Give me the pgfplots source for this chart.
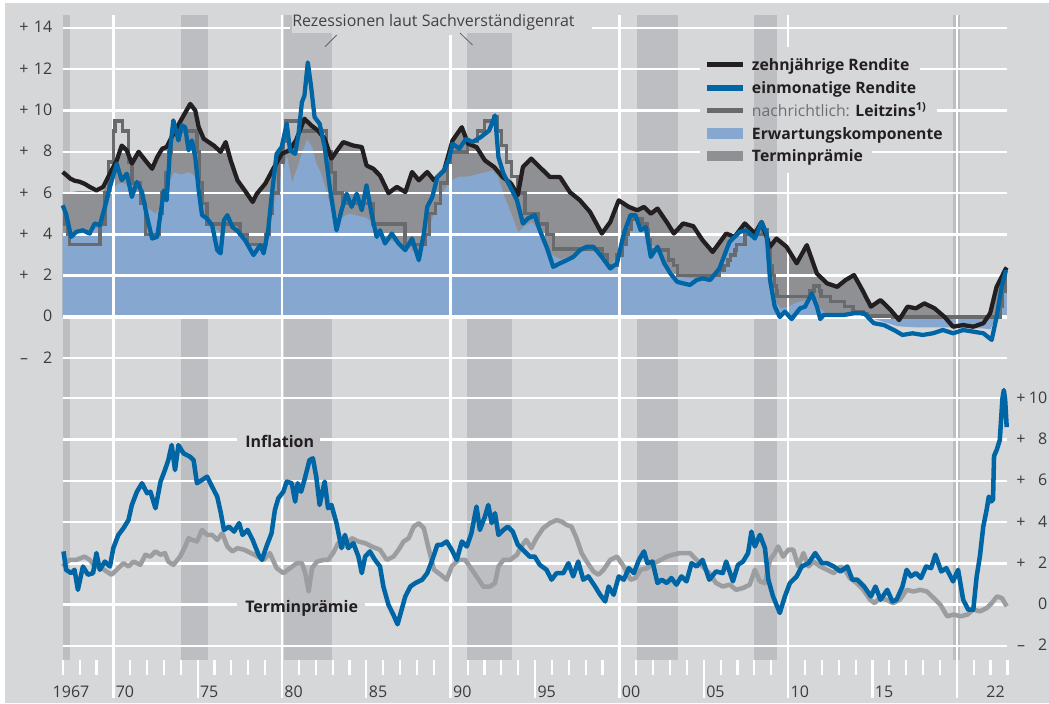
\documentclass[border=0pt]{standalone}
\usepackage{fontspec}
\setmainfont{Open Sans}
\usepackage{pgfplots}
\pgfplotsset{compat=1.18}
\usepackage{pgfplotstable}

\definecolor{bg}{RGB}{214,215,217}
\definecolor{band}{RGB}{189,190,194}
\definecolor{tpgray}{RGB}{143,144,147}
\definecolor{ekblue}{RGB}{134,168,208}
\definecolor{blueline}{RGB}{0,101,165}
\definecolor{blackline}{RGB}{35,31,32}
\definecolor{leitz}{RGB}{105,106,109}
\definecolor{tpline}{RGB}{156,157,160}
\definecolor{txt}{RGB}{35,31,32}
\definecolor{ticktxt}{RGB}{60,60,62}
\definecolor{nachr}{RGB}{110,111,114}

% ---------------- data ----------------
\pgfplotstableread{
x y
1967.00 7.02
1967.25 6.85
1967.45 6.70
1967.70 6.60
1968.00 6.55
1968.30 6.45
1968.60 6.30
1969.00 6.13
1969.40 6.30
1969.80 6.95
1970.20 7.58
1970.50 8.30
1970.80 8.07
1971.10 7.43
1971.50 8.00
1971.90 7.58
1972.30 7.18
1972.60 7.74
1972.90 8.15
1973.16 8.23
1973.56 8.87
1974.06 9.60
1974.56 10.32
1974.86 10.00
1975.06 9.20
1975.36 8.63
1975.96 8.30
1976.36 8.00
1976.66 8.47
1976.96 7.58
1977.36 6.62
1977.86 6.05
1978.26 5.57
1978.51 5.97
1979.01 6.46
1979.48 7.18
1979.98 7.90
1980.43 8.07
1980.83 8.55
1981.33 9.60
1981.73 9.28
1982.13 9.03
1982.53 8.63
1982.93 7.67
1983.30 8.10
1983.63 8.47
1984.23 8.30
1984.73 8.23
1985.01 7.34
1985.41 7.18
1985.81 6.85
1986.31 6.00
1986.81 6.30
1987.31 6.05
1987.71 7.02
1988.11 6.62
1988.61 7.02
1989.01 6.62
1989.61 7.10
1990.11 8.55
1990.66 9.19
1991.03 8.39
1991.53 8.23
1992.03 7.58
1992.58 7.26
1993.08 6.78
1993.58 6.46
1993.98 5.90
1994.28 7.26
1994.78 7.67
1995.28 7.26
1995.88 6.78
1996.48 6.78
1997.06 6.05
1997.66 5.65
1998.26 5.09
1998.96 4.04
1999.46 4.60
1999.96 5.65
2000.56 5.33
2001.06 5.17
2001.46 5.33
2001.86 5.00
2002.26 5.25
2002.86 4.53
2003.23 4.04
2003.78 4.53
2004.38 4.40
2004.93 3.72
2005.53 3.15
2006.33 4.04
2006.83 3.88
2007.43 4.53
2008.03 4.04
2008.43 4.60
2008.93 3.40
2009.31 3.80
2009.91 3.40
2010.51 2.60
2011.11 3.48
2011.71 2.10
2012.31 1.63
2012.91 1.46
2013.41 1.79
2013.91 2.03
2014.41 1.30
2014.91 0.50
2015.48 0.82
2016.08 0.34
2016.58 -0.15
2017.08 0.50
2017.58 0.42
2018.08 0.66
2018.68 0.42
2019.28 0.00
2019.78 -0.47
2020.38 -0.39
2020.98 -0.47
2021.58 -0.30
2021.98 0.18
2022.36 1.46
2022.70 2.00
2022.86 2.27
2022.96 2.40
}\tenyr

\pgfplotstableread{
x y
1967.00 5.95
1967.45 6.05
1968.00 6.10
1968.60 6.10
1969.00 6.00
1969.40 6.10
1969.80 6.60
1970.20 7.40
1970.50 8.30
1970.80 8.07
1971.10 7.43
1971.50 8.00
1971.90 7.58
1972.30 7.18
1972.60 7.74
1972.90 8.15
1973.16 8.23
1973.56 8.87
1974.06 9.60
1974.56 10.32
1974.86 10.00
1975.06 9.20
1975.36 8.63
1975.96 8.30
1976.36 8.00
1976.66 8.47
1976.96 7.58
1977.36 6.62
1977.86 6.05
1978.26 5.57
1978.51 5.97
1979.01 6.46
1979.48 7.18
1979.98 7.90
1980.43 8.07
1980.83 8.55
1981.33 9.60
1981.73 9.28
1982.13 9.03
1982.53 8.63
1982.93 7.67
1983.30 8.10
1983.63 8.47
1984.23 8.30
1984.73 8.23
1985.01 7.34
1985.41 7.18
1985.81 6.85
1986.31 6.00
1986.81 6.30
1987.31 6.05
1987.71 7.02
1988.11 6.62
1988.61 7.02
1989.01 6.62
1989.61 7.10
1990.11 8.55
1990.66 9.19
1991.03 8.39
1991.53 8.23
1992.03 7.58
1992.58 7.26
1993.08 6.78
1993.58 6.46
1993.98 5.90
1994.28 7.26
1994.78 7.67
1995.28 7.26
1995.88 6.78
1996.48 6.78
1997.06 6.05
1997.66 5.65
1998.26 5.09
1998.96 4.04
1999.46 4.60
1999.96 5.65
2000.56 5.33
2001.06 5.17
2001.46 5.33
2001.86 5.00
2002.26 5.25
2002.86 4.53
2003.23 4.04
2003.78 4.53
2004.38 4.40
2004.93 3.72
2005.53 3.15
2006.33 4.04
2006.83 3.88
2007.43 4.53
2008.03 4.04
2008.43 4.60
2008.93 3.40
2009.31 3.80
2009.91 3.40
2010.51 2.60
2011.11 3.48
2011.71 2.10
2012.31 1.63
2012.91 1.46
2013.41 1.79
2013.91 2.03
2014.41 1.30
2014.91 0.50
2015.48 0.82
2016.08 0.34
2016.58 -0.15
2017.08 0.50
2017.58 0.42
2018.08 0.66
2018.68 0.42
2019.28 0.00
2019.78 -0.47
2020.38 -0.39
2020.98 -0.47
2021.58 -0.30
2021.98 0.18
2022.36 1.46
2022.70 2.00
2022.86 2.27
2022.96 2.40
}\tparea

\pgfplotstableread{
x y
1967.00 5.41
1967.20 5.00
1967.50 3.88
1967.80 4.12
1968.20 4.20
1968.60 4.04
1968.90 4.53
1969.20 4.44
1969.50 5.33
1969.80 6.30
1970.20 7.42
1970.50 6.62
1970.80 6.94
1971.10 5.81
1971.40 6.54
1971.70 6.05
1972.00 4.85
1972.30 3.80
1972.60 3.88
1972.80 5.00
1973.00 6.13
1973.16 5.65
1973.36 8.07
1973.56 9.52
1973.86 8.55
1974.06 9.28
1974.26 9.19
1974.46 8.07
1974.66 8.55
1974.86 7.74
1975.06 6.13
1975.26 4.93
1975.56 4.77
1975.86 4.44
1976.16 3.24
1976.36 3.08
1976.56 4.69
1976.76 4.93
1977.06 4.36
1977.41 4.12
1977.81 3.72
1978.31 3.00
1978.71 3.48
1978.91 3.08
1979.18 4.20
1979.38 5.81
1979.68 7.90
1979.98 8.23
1980.28 9.36
1980.48 8.07
1980.78 7.90
1980.98 8.87
1981.18 10.40
1981.33 10.72
1981.53 12.33
1981.73 11.13
1981.93 9.68
1982.23 9.36
1982.53 8.23
1982.83 6.30
1983.23 4.20
1983.53 5.17
1983.83 5.97
1984.13 5.33
1984.43 5.97
1984.73 5.17
1985.01 6.38
1985.31 5.00
1985.61 3.88
1985.81 4.20
1986.11 3.56
1986.51 4.04
1986.91 3.56
1987.31 3.24
1987.71 3.80
1988.11 2.75
1988.41 4.04
1988.61 5.33
1988.91 5.81
1989.21 6.78
1989.61 7.10
1989.91 7.67
1990.11 8.39
1990.51 8.15
1990.91 8.63
1991.28 8.47
1991.78 8.71
1992.28 9.03
1992.63 9.76
1992.83 7.74
1993.13 6.94
1993.53 6.30
1993.93 5.65
1994.28 4.53
1994.58 4.77
1994.98 4.93
1995.28 4.20
1995.68 3.40
1996.08 2.43
1996.48 2.60
1996.88 2.75
1997.26 2.91
1997.66 3.24
1998.06 3.40
1998.46 3.40
1998.96 2.91
1999.46 2.35
1999.86 2.60
2000.26 4.04
2000.66 4.93
2000.96 4.93
2001.26 4.20
2001.56 4.36
2001.86 2.91
2002.26 3.40
2002.66 2.60
2003.03 2.10
2003.43 1.70
2003.78 1.63
2004.18 1.55
2004.58 1.79
2004.93 1.87
2005.38 1.79
2005.93 2.35
2006.53 3.64
2007.13 4.12
2007.53 4.20
2008.03 3.80
2008.43 4.60
2008.73 4.04
2008.93 1.79
2009.21 0.50
2009.51 0.00
2009.81 0.26
2010.21 -0.10
2010.71 0.42
2011.01 0.50
2011.41 1.14
2011.71 0.50
2011.91 -0.10
2012.11 0.10
2012.71 0.10
2013.31 0.10
2013.91 0.18
2014.51 0.18
2015.08 -0.30
2015.68 -0.39
2016.28 -0.63
2016.78 -0.87
2017.38 -0.79
2017.98 -0.87
2018.58 -0.79
2019.18 -0.63
2019.78 -0.79
2020.38 -0.63
2020.98 -0.71
2021.58 -0.79
2022.07 -1.11
2022.36 0.00
2022.66 1.46
2022.92 2.27
}\onem

\pgfplotstableread{
x y
1967.00 5.00
1967.15 5.00
1967.15 4.50
1967.30 4.50
1967.30 4.00
1967.40 4.00
1967.40 3.50
1969.20 3.50
1969.20 4.50
1969.50 4.50
1969.50 6.00
1969.70 6.00
1969.70 7.50
1970.00 7.50
1970.00 9.00
1970.10 9.00
1970.10 9.50
1970.55 9.50
1970.55 9.00
1970.90 9.00
1970.90 7.50
1971.10 7.50
1971.10 6.50
1971.60 6.50
1971.60 5.50
1971.90 5.50
1971.90 4.00
1972.75 4.00
1972.75 5.00
1972.90 5.00
1972.90 6.00
1973.10 6.00
1973.10 7.00
1973.30 7.00
1973.30 8.00
1973.45 8.00
1973.45 9.00
1974.95 9.00
1974.95 8.00
1975.10 8.00
1975.10 6.50
1975.30 6.50
1975.30 5.50
1975.55 5.50
1975.55 4.50
1977.50 4.50
1977.50 4.00
1977.95 4.00
1977.95 3.50
1979.05 3.50
1979.05 4.00
1979.25 4.00
1979.25 5.00
1979.45 5.00
1979.45 6.00
1979.80 6.00
1979.80 7.50
1980.05 7.50
1980.05 8.50
1980.20 8.50
1980.20 9.50
1981.05 9.50
1981.05 9.00
1982.65 9.00
1982.65 8.00
1982.90 8.00
1982.90 7.00
1983.15 7.00
1983.15 6.00
1983.60 6.00
1983.60 5.50
1985.40 5.50
1985.40 4.50
1987.30 4.50
1987.30 3.50
1988.50 3.50
1988.50 4.00
1988.75 4.00
1988.75 5.00
1989.10 5.00
1989.10 5.50
1989.40 5.50
1989.40 6.50
1989.80 6.50
1989.80 7.50
1990.00 7.50
1990.00 8.00
1991.00 8.00
1991.00 8.50
1991.60 8.50
1991.60 9.00
1992.00 9.00
1992.00 9.50
1992.55 9.50
1992.55 9.70
1992.75 9.70
1992.75 9.00
1993.00 9.00
1993.00 8.30
1993.30 8.30
1993.30 7.50
1993.60 7.50
1993.60 6.80
1994.00 6.80
1994.00 6.00
1994.40 6.00
1994.40 5.00
1995.20 5.00
1995.20 4.50
1995.70 4.50
1995.70 4.00
1996.10 4.00
1996.10 3.30
1999.00 3.30
1999.00 3.00
1999.30 3.00
1999.30 2.50
1999.85 2.50
1999.85 3.00
2000.15 3.00
2000.15 3.50
2000.40 3.50
2000.40 4.00
2000.50 4.00
2000.50 4.25
2000.70 4.25
2000.70 4.75
2001.35 4.75
2001.35 4.50
2001.65 4.50
2001.65 4.25
2001.70 4.25
2001.70 3.75
2001.85 3.75
2001.85 3.25
2002.92 3.25
2002.92 2.75
2003.20 2.75
2003.20 2.50
2003.45 2.50
2003.45 2.00
2005.95 2.00
2005.95 2.25
2006.20 2.25
2006.20 2.50
2006.45 2.50
2006.45 2.75
2006.60 2.75
2006.60 3.00
2006.85 3.00
2006.85 3.25
2006.95 3.25
2006.95 3.50
2007.45 3.50
2007.45 4.00
2008.52 4.00
2008.52 4.25
2008.77 4.25
2008.77 3.75
2008.85 3.75
2008.85 3.25
2008.95 3.25
2008.95 2.50
2009.05 2.50
2009.05 2.00
2009.20 2.00
2009.20 1.50
2009.30 1.50
2009.30 1.25
2009.35 1.25
2009.35 1.00
2011.30 1.00
2011.30 1.25
2011.55 1.25
2011.55 1.50
2011.85 1.50
2011.85 1.25
2011.95 1.25
2011.95 1.00
2012.50 1.00
2012.50 0.75
2013.35 0.75
2013.35 0.50
2013.85 0.50
2013.85 0.25
2014.45 0.25
2014.45 0.15
2014.70 0.15
2014.70 0.05
2016.20 0.05
2016.20 0.00
2022.55 0.00
2022.55 0.50
2022.70 0.50
2022.70 1.25
2022.85 1.25
2022.85 2.00
2022.96 2.00
}\leitzins

\pgfplotstableread{
x y
1967.00 4.00
1967.50 4.10
1968.00 4.20
1968.50 4.20
1969.00 4.30
1969.40 4.40
1969.80 5.80
1970.20 6.40
1970.50 6.50
1970.80 6.40
1971.10 6.00
1971.50 5.90
1972.00 5.30
1972.50 5.00
1973.00 5.50
1973.30 6.50
1973.60 7.00
1974.00 6.90
1974.50 7.00
1974.90 6.80
1975.20 5.00
1975.50 4.60
1976.00 4.30
1976.50 4.00
1977.00 4.10
1977.50 3.90
1978.00 3.60
1978.50 3.40
1979.00 3.50
1979.30 4.50
1979.70 6.20
1980.00 7.00
1980.30 7.80
1980.60 6.50
1980.90 7.20
1981.20 8.00
1981.50 8.60
1981.80 8.20
1982.00 7.50
1982.30 7.00
1982.60 6.20
1983.00 5.00
1983.50 4.80
1984.00 5.00
1984.50 4.90
1985.00 4.80
1985.50 4.40
1986.00 3.80
1986.50 3.70
1987.00 3.50
1987.50 3.40
1988.00 3.00
1988.50 3.80
1989.00 5.00
1989.50 6.00
1990.00 6.60
1990.50 6.80
1991.00 6.80
1991.50 6.90
1992.00 7.00
1992.50 7.10
1992.80 6.80
1993.20 5.80
1993.60 5.00
1994.00 4.10
1994.40 4.40
1994.80 4.60
1995.20 4.20
1995.60 3.60
1996.00 3.00
1996.50 2.80
1997.00 2.90
1997.50 3.10
1998.00 3.20
1998.50 3.20
1999.00 2.70
1999.50 2.50
1999.90 3.00
2000.30 4.30
2000.70 5.00
2001.00 4.90
2001.40 4.40
2001.80 3.50
2002.20 3.40
2002.60 2.80
2003.00 2.30
2003.40 2.00
2004.00 1.90
2004.50 1.85
2005.00 1.90
2005.50 1.90
2006.00 2.40
2006.50 3.40
2007.00 3.90
2007.50 4.20
2008.00 4.00
2008.50 4.10
2008.80 3.00
2009.00 1.50
2009.30 0.70
2009.60 0.40
2010.00 0.50
2010.50 0.70
2011.00 0.80
2011.40 1.00
2011.80 0.50
2012.20 0.20
2013.00 0.10
2014.00 0.15
2014.80 0.00
2015.50 -0.20
2016.50 -0.45
2017.50 -0.50
2018.50 -0.50
2019.50 -0.50
2020.50 -0.55
2021.50 -0.55
2022.00 -0.60
2022.40 0.20
2022.70 1.50
2022.96 2.10
}\ekdata

\pgfplotstableread{
x y
1967.05 2.58
1967.20 1.69
1967.50 1.53
1967.70 1.69
1967.90 0.72
1968.20 1.85
1968.50 1.45
1968.80 1.53
1969.00 2.50
1969.20 1.69
1969.50 2.09
1969.80 1.85
1970.00 2.74
1970.30 3.38
1970.60 3.70
1970.90 4.10
1971.10 4.83
1971.40 5.47
1971.70 5.88
1972.00 5.40
1972.20 5.47
1972.50 4.67
1972.80 5.96
1973.06 6.52
1973.26 7.00
1973.46 7.73
1973.66 6.52
1973.86 7.73
1974.16 7.33
1974.56 7.16
1974.76 7.00
1974.96 5.88
1975.26 6.04
1975.56 6.20
1975.86 5.71
1976.16 5.23
1976.36 4.50
1976.56 3.62
1976.86 3.78
1977.16 3.54
1977.46 3.95
1977.66 3.38
1977.96 3.62
1978.26 3.14
1978.61 2.42
1978.81 2.17
1979.08 2.82
1979.38 3.46
1979.58 4.59
1979.78 5.15
1980.08 5.47
1980.28 5.96
1980.58 5.88
1980.78 4.99
1980.93 5.88
1981.13 5.47
1981.33 6.04
1981.63 7.00
1981.83 7.09
1982.03 6.20
1982.23 4.83
1982.53 5.96
1982.73 4.67
1982.93 4.83
1983.23 3.95
1983.53 2.74
1983.73 3.38
1983.93 2.74
1984.23 2.98
1984.53 2.33
1984.73 1.53
1984.93 2.33
1985.21 2.58
1985.51 2.17
1985.81 1.85
1986.01 0.88
1986.31 0.00
1986.61 -0.50
1986.85 -0.95
1987.31 0.40
1987.61 0.88
1987.91 1.05
1988.31 1.21
1988.61 1.53
1988.91 2.17
1989.21 2.90
1989.46 2.90
1989.76 3.06
1990.06 2.66
1990.36 2.17
1990.66 3.06
1990.96 2.82
1991.23 3.46
1991.53 4.75
1991.73 3.62
1992.03 4.27
1992.23 4.83
1992.43 3.95
1992.63 4.43
1992.83 3.38
1993.13 3.62
1993.38 3.78
1993.68 3.54
1993.98 2.90
1994.28 2.66
1994.68 2.33
1994.98 2.33
1995.28 1.93
1995.68 1.69
1995.98 1.21
1996.28 1.53
1996.68 1.53
1996.98 2.01
1997.26 1.37
1997.56 2.09
1997.86 1.21
1998.16 1.37
1998.56 0.88
1998.86 0.48
1999.16 0.16
1999.36 0.88
1999.66 0.48
1999.96 1.37
2000.26 1.21
2000.56 1.77
2000.86 1.53
2001.16 2.17
2001.46 2.58
2001.66 2.01
2001.96 2.09
2002.26 1.05
2002.51 1.21
2002.81 1.05
2003.08 1.29
2003.38 0.97
2003.68 1.37
2003.98 1.13
2004.28 2.01
2004.58 1.85
2004.93 2.17
2005.33 1.21
2005.73 1.61
2006.13 1.53
2006.33 2.09
2006.73 1.13
2007.03 1.93
2007.33 2.09
2007.63 2.50
2007.83 3.54
2008.03 2.82
2008.33 3.38
2008.63 2.74
2008.83 1.21
2009.11 0.40
2009.51 -0.40
2009.81 0.40
2010.11 1.05
2010.51 1.37
2010.81 1.85
2011.21 2.01
2011.61 2.50
2012.01 2.01
2012.31 2.01
2012.71 1.85
2013.11 1.61
2013.51 1.85
2013.81 1.21
2014.11 1.21
2014.51 0.88
2014.91 0.40
2015.18 0.88
2015.48 0.24
2015.88 0.72
2016.18 0.16
2016.43 0.24
2016.78 0.88
2017.03 1.69
2017.28 1.37
2017.58 1.53
2017.88 1.29
2018.18 1.85
2018.48 1.77
2018.73 2.42
2019.08 1.61
2019.38 1.77
2019.78 1.13
2020.08 1.69
2020.38 0.24
2020.68 -0.24
2020.98 -0.24
2021.18 1.37
2021.37 2.33
2021.57 3.78
2021.77 4.59
2021.90 5.23
2022.05 5.00
2022.15 5.10
2022.21 7.20
2022.37 7.50
2022.55 7.97
2022.71 10.00
2022.79 10.39
2022.87 9.90
2022.96 8.60
}\inflation

\pgfplotstableread{
x y
1967.00 1.85
1967.40 2.17
1967.80 2.17
1968.30 2.33
1968.60 2.17
1968.90 1.85
1969.20 1.85
1969.60 1.61
1969.90 1.45
1970.20 1.69
1970.60 2.01
1970.90 1.85
1971.20 2.09
1971.60 1.93
1971.90 2.42
1972.20 2.33
1972.50 2.58
1972.80 2.42
1973.06 2.50
1973.26 2.09
1973.56 1.93
1973.96 2.33
1974.26 2.82
1974.46 3.22
1974.66 3.14
1974.96 3.06
1975.26 3.62
1975.56 3.38
1975.86 3.38
1976.16 3.14
1976.46 3.46
1976.76 2.82
1977.06 2.58
1977.36 2.74
1977.76 2.66
1978.16 2.50
1978.56 2.33
1978.91 2.17
1979.28 2.50
1979.68 1.77
1980.08 1.53
1980.48 1.77
1980.88 2.01
1981.18 2.01
1981.38 1.53
1981.58 0.64
1981.78 1.77
1982.08 2.09
1982.48 2.17
1982.73 2.17
1983.03 2.50
1983.33 2.98
1983.73 2.82
1984.13 3.22
1984.53 3.06
1984.93 2.98
1985.31 2.82
1985.81 2.66
1986.21 2.17
1986.61 2.33
1986.91 2.66
1987.21 3.06
1987.51 3.22
1987.81 3.78
1988.11 3.95
1988.41 3.70
1988.71 2.66
1989.01 1.69
1989.41 1.45
1989.76 1.21
1990.06 1.85
1990.46 2.17
1990.86 2.17
1991.13 1.85
1991.53 1.37
1991.93 0.88
1992.33 0.88
1992.63 1.05
1992.83 1.85
1993.13 2.17
1993.53 2.17
1993.93 2.42
1994.18 2.82
1994.48 3.14
1994.78 2.74
1995.08 3.22
1995.48 3.70
1995.88 3.95
1996.28 4.10
1996.58 4.02
1996.88 3.86
1997.16 3.78
1997.46 3.22
1997.76 2.50
1998.06 2.09
1998.46 1.61
1998.76 1.45
1999.06 1.69
1999.46 2.17
1999.86 2.33
2000.26 1.85
2000.66 1.21
2000.96 1.29
2001.26 1.69
2001.66 1.77
2002.06 2.01
2002.46 2.17
2002.81 2.33
2003.18 2.42
2003.58 2.50
2004.18 2.50
2004.58 2.17
2004.93 1.85
2005.33 1.53
2005.73 1.05
2006.13 0.88
2006.53 0.97
2006.93 0.72
2007.33 0.81
2007.73 0.97
2008.03 1.69
2008.33 1.13
2008.63 1.05
2008.93 2.17
2009.21 2.50
2009.41 2.82
2009.71 2.33
2010.01 2.66
2010.31 2.66
2010.61 1.85
2010.91 2.50
2011.21 1.85
2011.51 2.09
2011.91 1.85
2012.31 1.69
2012.71 1.53
2013.11 1.85
2013.36 1.69
2013.66 1.29
2014.06 1.05
2014.46 0.72
2014.86 0.24
2015.13 0.08
2015.43 0.32
2015.83 0.24
2016.23 0.08
2016.63 0.24
2017.03 0.72
2017.43 0.64
2017.83 0.72
2018.23 0.64
2018.63 0.32
2019.03 0.00
2019.43 -0.56
2019.83 -0.48
2020.23 -0.56
2020.63 -0.48
2020.98 -0.24
2021.38 -0.32
2021.78 -0.16
2022.08 0.08
2022.38 0.40
2022.68 0.32
2022.96 -0.08
}\tpdata

\pgfplotsset{
  panel/.style={scale only axis, width=708.5pt, hide axis, clip=false,
    xmin=1967, xmax=2023, anchor=south west},
}
\tikzset{gw/.style={draw=white, line width=1.8pt},
  lab/.style={font=\fontsize{12}{14}\selectfont, text=ticktxt, inner sep=0pt}}

\begin{document}
\begin{tikzpicture}
\begin{scope}[x=0.75pt,y=0.75pt]
\path[use as bounding box] (0,0) rectangle (1049,703);
\fill[white] (0,0) rectangle (1049,703);
\fill[bg] (5,0) rectangle (1049,700);
\end{scope}

% ================= top panel =================
\begin{axis}[panel, at={(47.025pt,242.25pt)}, height=273.75pt, ymin=-3.051, ymax=14.625]
  \fill[band] (axis cs:1967.00,-3.051) rectangle (axis cs:1967.43,14.625);
  \fill[band] (axis cs:1974.01,-3.051) rectangle (axis cs:1975.60,14.625);
  \fill[band] (axis cs:1980.12,-3.051) rectangle (axis cs:1982.95,14.625);
  \fill[band] (axis cs:1990.98,-3.051) rectangle (axis cs:1993.62,14.625);
  \fill[band] (axis cs:2001.02,-3.051) rectangle (axis cs:2003.46,14.625);
  \fill[band] (axis cs:2007.98,-3.051) rectangle (axis cs:2009.32,14.625);
  \fill[band] (axis cs:2019.80,-3.051) rectangle (axis cs:2020.20,14.625);

  \addplot[draw=none, fill=tpgray] table {\tparea} \closedcycle;
  \addplot[draw=none, fill=ekblue] table {\ekdata} \closedcycle;

  % horizontal grid
  \draw[gw] (axis cs:1967,14) -- (axis cs:1980.48,14);
  \draw[gw] (axis cs:1998.37,14) -- (axis cs:2023,14);
  \draw[gw] (axis cs:1967,12) -- (axis cs:2004.78,12);
  \draw[gw] (axis cs:2017.82,12) -- (axis cs:2023,12);
  \draw[gw] (axis cs:1967,10) -- (axis cs:2004.78,10);
  \draw[gw] (axis cs:2018.82,10) -- (axis cs:2023,10);
  \draw[gw] (axis cs:1967,8) -- (axis cs:2004.78,8);
  \draw[gw] (axis cs:2014.97,8) -- (axis cs:2023,8);
  \draw[gw] (axis cs:1967,6) -- (axis cs:2023,6);
  \draw[gw] (axis cs:1967,4) -- (axis cs:2023,4);
  \draw[gw] (axis cs:1967,2) -- (axis cs:2023,2);
  \draw[gw, line width=3.6pt] (axis cs:1967,0) -- (axis cs:2023,0);
  \draw[gw] (axis cs:1967,-2) -- (axis cs:2023,-2);
  % vertical grid
  \draw[gw] (axis cs:1970,14.625) -- (axis cs:1970,-3.051);
  \draw[gw] (axis cs:1980,14.625) -- (axis cs:1980,-3.051);
  \draw[gw] (axis cs:1990,13.66) -- (axis cs:1990,-3.051);
  \draw[gw] (axis cs:2000,14.625) -- (axis cs:2000,-3.051);
  \draw[gw] (axis cs:2010,14.625) -- (axis cs:2010,13.07);
  \draw[gw] (axis cs:2010,6.97) -- (axis cs:2010,-3.051);
  \draw[gw] (axis cs:2020,14.625) -- (axis cs:2020,-3.051);

  \addplot[leitz, line width=2.6pt] table {\leitzins};
  \addplot[blackline, line width=3.2pt, line join=round] table {\tenyr};
  \addplot[blueline, line width=3.2pt, line join=round] table {\onem};
\end{axis}

% ================= bottom panel =================
\begin{axis}[panel, at={(47.025pt,32.25pt)}, height=210pt, ymin=-2.678, ymax=10.881]
  \fill[band] (axis cs:1967.00,-2.678) rectangle (axis cs:1967.43,10.881);
  \fill[band] (axis cs:1974.01,-2.678) rectangle (axis cs:1975.60,10.881);
  \fill[band] (axis cs:1980.12,-2.678) rectangle (axis cs:1982.95,10.881);
  \fill[band] (axis cs:1990.98,-2.678) rectangle (axis cs:1993.62,10.881);
  \fill[band] (axis cs:2001.02,-2.678) rectangle (axis cs:2003.46,10.881);
  \fill[band] (axis cs:2007.98,-2.678) rectangle (axis cs:2009.32,10.881);
  \fill[band] (axis cs:2019.80,-2.678) rectangle (axis cs:2020.20,10.881);

  \draw[gw] (axis cs:1967,10) -- (axis cs:2023,10);
  \draw[gw] (axis cs:1967,8) -- (axis cs:1977.33,8);
  \draw[gw] (axis cs:1982.25,8) -- (axis cs:2023,8);
  \draw[gw] (axis cs:1967,6) -- (axis cs:2023,6);
  \draw[gw] (axis cs:1967,4) -- (axis cs:2023,4);
  \draw[gw] (axis cs:1967,2) -- (axis cs:2023,2);
  \draw[gw] (axis cs:1967,0) -- (axis cs:1977.33,0);
  \draw[gw] (axis cs:1984.92,0) -- (axis cs:2023,0);
  \draw[gw] (axis cs:1967,-2) -- (axis cs:2023,-2);

  \draw[gw] (axis cs:1970,10.881) -- (axis cs:1970,-4.518);
  \draw[gw] (axis cs:1980,10.881) -- (axis cs:1980,-4.518);
  \draw[gw] (axis cs:1990,10.881) -- (axis cs:1990,-4.518);
  \draw[gw] (axis cs:2000,10.881) -- (axis cs:2000,-4.518);
  \draw[gw] (axis cs:2010,10.881) -- (axis cs:2010,-4.518);
  \draw[gw] (axis cs:2020,10.881) -- (axis cs:2020,-4.518);

  \addplot[tpline, line width=3.4pt, line join=round] table {\tpdata};
  \addplot[blueline, line width=3.4pt, line join=round] table {\inflation};
\end{axis}

\begin{scope}[x=0.75pt,y=0.75pt]
% ---------- year ticks ----------
\foreach \i in {0,...,56} \draw[white, line width=1.6pt] ({62.7+16.87*\i},43) -- ({62.7+16.87*\i},28);
\foreach \i in {8,18,28,38,48} \draw[white, line width=1.6pt] ({62.7+16.87*\i},43) -- ({62.7+16.87*\i},5);

% ---------- year labels ----------
\node[lab, anchor=base] at (71,6) {1967};
\foreach \yr/\xx in {70/115.5,75/199.8,80/284.2,85/368.6,90/452.9,95/537.3,00/621.6,05/706,10/790.4,15/874.7}
  \node[lab, anchor=base west] at (\xx,6) {\yr};
\node[lab, anchor=base east] at (1005,6) {22};

% ---------- left labels (top) ----------
\foreach \v/\yy in {14/670.1,12/628.8,10/587.5,8/546.2,6/504.9,4/463.6,2/422.3}{
  \node[lab, anchor=base] at (24,\yy) {+};
  \node[lab, anchor=base east] at (52.5,\yy) {\v};
}
\node[lab, anchor=base east] at (52.5,381) {0};
\node[lab, anchor=base] at (24,339.7) {–};
\node[lab, anchor=base east] at (52.5,339.7) {2};

% ---------- right labels (bottom) ----------
\foreach \v/\yy in {10/299.8,8/258.5,6/217.2,4/175.9,2/134.6}{
  \node[lab, anchor=base] at (1021,\yy) {+};
  \node[lab, anchor=base east] at (1047.5,\yy) {\v};
}
\node[lab, anchor=base east] at (1047.5,93.3) {0};
\node[lab, anchor=base] at (1021,52) {–};
\node[lab, anchor=base east] at (1047.5,52) {2};

% ---------- annotations ----------
\fill[bg] (292,670) rectangle (592,691);
\node[lab, anchor=base west, text=txt!85] at (292,676) {Rezessionen laut Sachverständigenrat};
\draw[txt!70, line width=0.6pt] (325,656.3) -- (336.7,668);
\draw[txt!70, line width=0.6pt] (460,670) -- (472.5,658);

\node[lab, anchor=base west, text=txt, font=\fontsize{12}{14}\selectfont\bfseries] at (245,255) {Inflation};
\node[lab, anchor=base west, text=txt, font=\fontsize{12}{14}\selectfont\bfseries] at (245,90) {Terminprämie};

% ---------- legend ----------
\fill[blackline] (707,635.7) rectangle (743,641.3);
\fill[blueline] (707,612.3) rectangle (743,618);
\fill[leitz] (707,589.7) rectangle (743,594.7);
\fill[ekblue] (707,564.3) rectangle (743,575.3);
\fill[tpgray] (707,542.3) rectangle (743,552.3);
\tikzset{leg/.style={anchor=base west, inner sep=0pt, text=txt, font=\fontsize{11.8}{13}\selectfont\bfseries}}
\node[leg] at (751.7,632) {zehnjährige Rendite};
\node[leg] at (751.7,609) {einmonatige Rendite};
\node[leg] at (751.7,586.3) {{\mdseries\color{nachr}nachrichtlich:} Leitzins\textsuperscript{1)}};
\node[leg] at (751.7,563) {Erwartungskomponente};
\node[leg] at (751.7,541.3) {Terminprämie};
\end{scope}
\end{tikzpicture}
\end{document}
